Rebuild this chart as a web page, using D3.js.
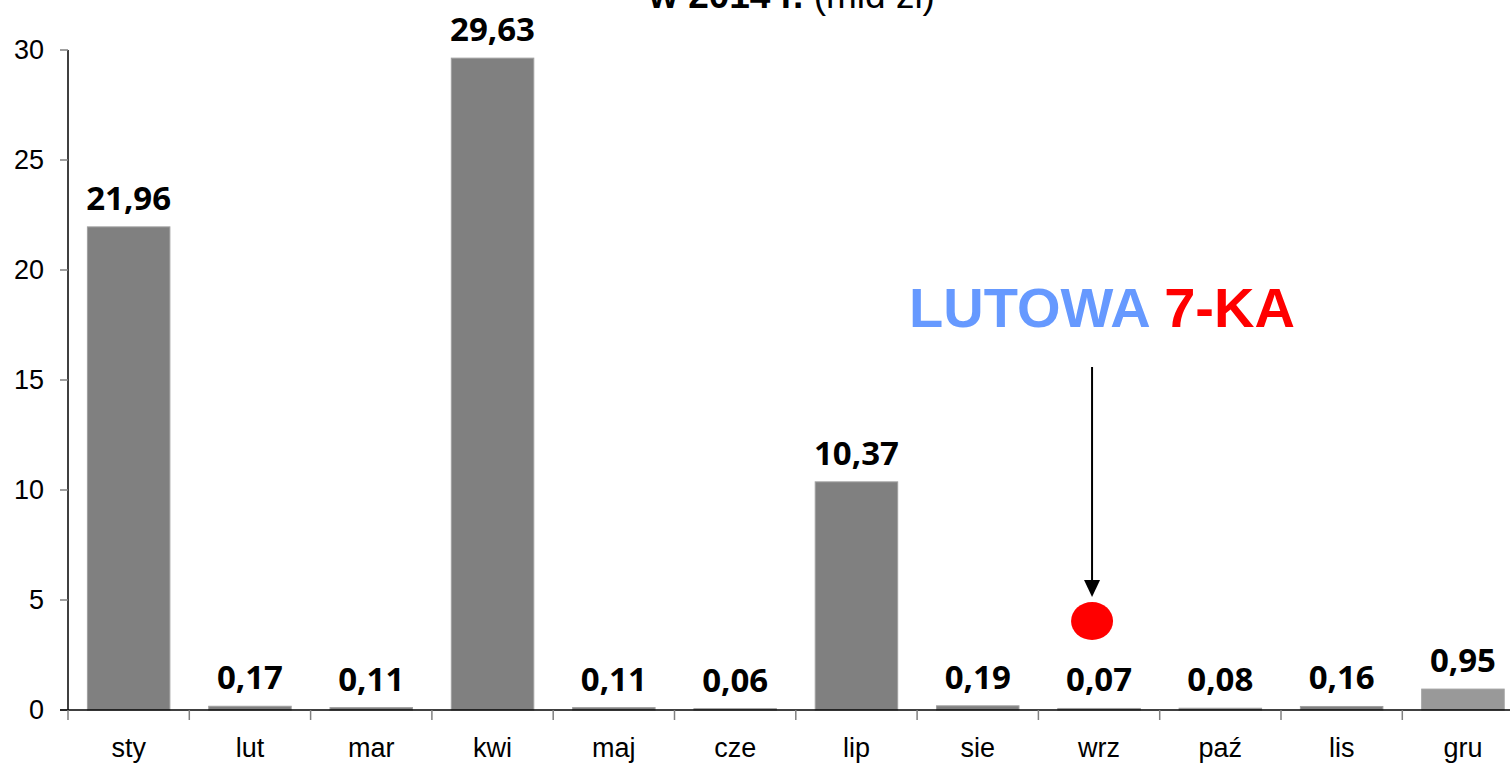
<!DOCTYPE html>
<html>
<head>
<meta charset="utf-8">
<script src="https://cdn.jsdelivr.net/npm/d3@7"></script>
<style>
  body { margin: 0; background: #fff; }
  svg { display: block; }
  .tick-label { font-family: "Liberation Sans", Arial, sans-serif; font-size: 27px; fill: #000; }
  .value-label { font-family: "Open Sans", sans-serif; font-weight: 700; font-size: 33px; fill: #000; }
</style>
</head>
<body>
<div id="wrapper"></div>
<script>
const months = ["sty", "lut", "mar", "kwi", "maj", "cze", "lip", "sie", "wrz", "paź", "lis", "gru"];
const values = [21.96, 0.17, 0.11, 29.63, 0.11, 0.06, 10.37, 0.19, 0.07, 0.08, 0.16, 0.95];
const valueLabels = ["21,96", "0,17", "0,11", "29,63", "0,11", "0,06", "10,37", "0,19", "0,07", "0,08", "0,16", "0,95"];
const yTicks = [0, 5, 10, 15, 20, 25, 30];

function draw() {
    // chart dimensions
    let dimensions = {
        width: 1510,
        height: 765,
        margin: { top: 50, left: 68 },
    };
    dimensions.boundedHeight = 660;
    const step = 121.3;

    const wrapper = d3.select("#wrapper")
        .append("svg")
        .attr("width", dimensions.width)
        .attr("height", dimensions.height);

    // scales
    const xScale = d3.scaleBand()
        .domain(months)
        .range([dimensions.margin.left, dimensions.margin.left + step * months.length])
        .paddingInner(0.32)
        .paddingOuter(0.16);

    const yScale = d3.scaleLinear()
        .domain([0, 30])
        .range([dimensions.margin.top + dimensions.boundedHeight, dimensions.margin.top]);

    const y0 = yScale(0);

    // title (cut off at top, as in the original)
    const title = wrapper.append("text")
        .attr("x", 792)
        .attr("y", 8)
        .attr("text-anchor", "middle")
        .style("font-family", "'Liberation Sans', Arial, sans-serif")
        .style("font-size", "37px");
    title.append("tspan").style("font-weight", "700").text("w 2014 r.");
    title.append("tspan").text(" (mld zł)");

    // bars
    wrapper.selectAll(".bar")
        .data(values)
        .enter()
        .append("rect")
        .attr("class", "bar")
        .attr("x", (d, i) => xScale(months[i]))
        .attr("width", xScale.bandwidth())
        .attr("y", d => yScale(d))
        .attr("height", d => y0 - yScale(d))
        .attr("fill", (d, i) => i === months.length - 1 ? "#999999" : "#808080")
        .attr("stroke", "#a0a0a0")
        .attr("stroke-width", 1);

    // value labels
    wrapper.selectAll(".value-label")
        .data(values)
        .enter()
        .append("text")
        .attr("class", "value-label")
        .attr("x", (d, i) => xScale(months[i]) + xScale.bandwidth() / 2)
        .attr("y", d => yScale(d) - 17)
        .attr("text-anchor", "middle")
        .text((d, i) => valueLabels[i]);

    // y axis
    wrapper.append("line")
        .attr("x1", dimensions.margin.left).attr("x2", dimensions.margin.left)
        .attr("y1", yScale(30)).attr("y2", y0)
        .attr("stroke", "#000").attr("stroke-width", 1.5);

    wrapper.selectAll(".y-tick")
        .data(yTicks)
        .enter()
        .append("line")
        .attr("x1", dimensions.margin.left - 8).attr("x2", dimensions.margin.left)
        .attr("y1", d => yScale(d)).attr("y2", d => yScale(d))
        .attr("stroke", "#808080").attr("stroke-width", 1.5);

    wrapper.selectAll(".y-label")
        .data(yTicks)
        .enter()
        .append("text")
        .attr("class", "tick-label")
        .attr("x", 44)
        .attr("y", d => yScale(d))
        .attr("dy", "0.35em")
        .attr("text-anchor", "end")
        .text(d => d);

    // x axis
    wrapper.append("line")
        .attr("x1", dimensions.margin.left - 8).attr("x2", dimensions.width)
        .attr("y1", y0).attr("y2", y0)
        .attr("stroke", "#000").attr("stroke-width", 1.5);

    wrapper.selectAll(".x-tick")
        .data(d3.range(months.length))
        .enter()
        .append("line")
        .attr("x1", i => dimensions.margin.left + i * xScale.step())
        .attr("x2", i => dimensions.margin.left + i * xScale.step())
        .attr("y1", y0).attr("y2", y0 + 10)
        .attr("stroke", "#808080").attr("stroke-width", 1.5);

    wrapper.selectAll(".x-label")
        .data(months)
        .enter()
        .append("text")
        .attr("class", "tick-label")
        .attr("x", d => xScale(d) + xScale.bandwidth() / 2)
        .attr("y", 757)
        .attr("text-anchor", "middle")
        .text(d => d);

    // annotation
    const noteX = xScale("wrz") + xScale.bandwidth() / 2 - 7;
    const note = wrapper.append("text")
        .attr("x", 1102)
        .attr("y", 327)
        .attr("text-anchor", "middle")
        .style("font-family", "'Liberation Sans', Arial, sans-serif")
        .style("font-weight", "700")
        .style("font-size", "56px");
    note.append("tspan").attr("fill", "#6699ff").text("LUTOWA ");
    note.append("tspan").attr("fill", "#ff0000").text("7-KA");

    wrapper.append("line")
        .attr("x1", noteX).attr("x2", noteX)
        .attr("y1", 367).attr("y2", 582)
        .attr("stroke", "#000").attr("stroke-width", 2);

    wrapper.append("path")
        .attr("d", `M${noteX - 8},580 L${noteX + 8},580 L${noteX},597 Z`)
        .attr("fill", "#000");

    wrapper.append("ellipse")
        .attr("cx", noteX)
        .attr("cy", 621)
        .attr("rx", 21)
        .attr("ry", 19)
        .attr("fill", "#ff0000");
}

draw();
</script>
</body>
</html>
